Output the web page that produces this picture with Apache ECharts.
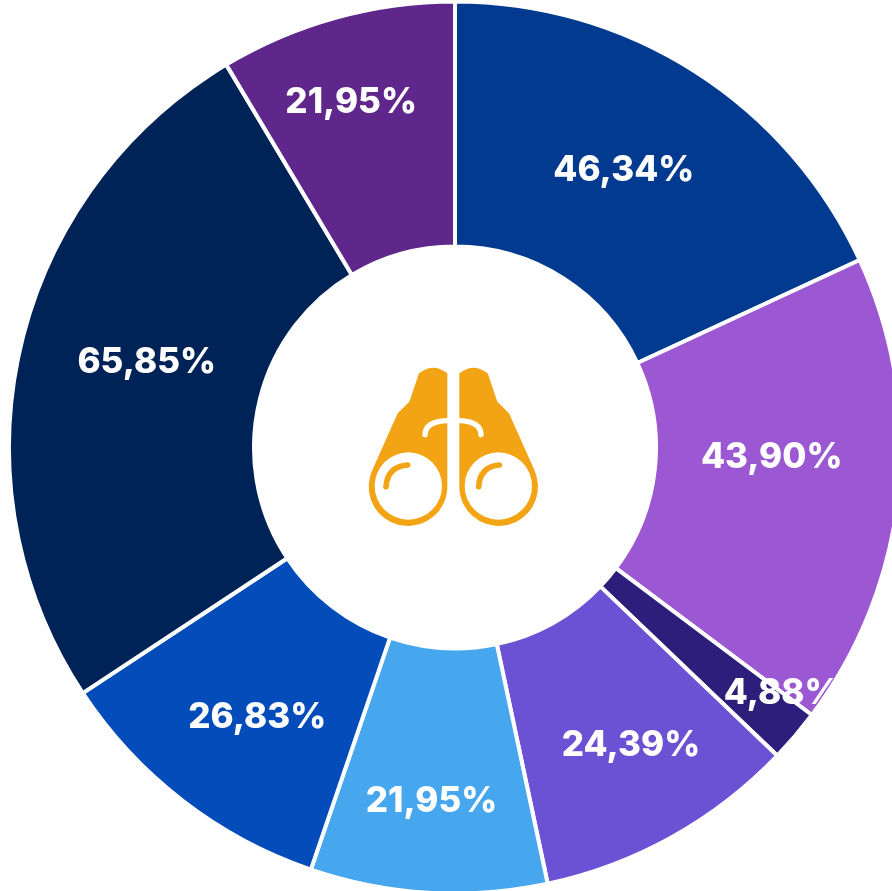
<!DOCTYPE html>
<html><head><meta charset="utf-8">
<style>html,body{margin:0;padding:0;background:#fff}#c{width:892px;height:891px}</style>
<script src="https://cdn.jsdelivr.net/npm/echarts@6/dist/echarts.min.js"></script>
</head><body><div id="c"></div>
<script>
const values = [46.34, 43.90, 4.88, 24.39, 21.95, 26.83, 65.85, 21.95];
const colors = ['#023a90', '#9b58d2', '#2e1e7b', '#6b52d4', '#46a6ee', '#034cba', '#002357', '#5f278c'];
const fmt = v => v.toFixed(2).replace('.', ',') + '%';
const bodyL = 'M292 70Q250 36 207 70L178 155L143 190L68 358A118 118 0 1 0 292 408Z';
const bodyR = 'M328 70Q370 36 413 70L442 155L477 190L552 358A118 118 0 1 1 328 408Z';
const ICON = '#f3a414';
const labelShift = [[-7,-2],[-8,-24],[78,35],[17,13],[-4,28],[2,12],[10,-12],[-17,-30]];
const chart = echarts.init(document.getElementById('c'));
chart.setOption({
  animation: false,
  series: [{
    type: 'pie', center: [455, 447.5], radius: [201, 446], startAngle: 90, clockwise: true,
    avoidLabelOverlap: false, silent: true,
    itemStyle: {borderColor: '#fff', borderWidth: 4},
    label: {position: 'inside', color: '#fff', fontFamily: 'Inter', fontWeight: 800, fontSize: 35},
    labelLine: {show: false},
    data: values.map((v, i) => ({
      value: v, itemStyle: {color: colors[i]},
      label: {formatter: fmt(v), offset: labelShift[i]}
    }))
  }, {
    type: 'custom', coordinateSystem: 'none', silent: true, data: [0], z: 5, clip: false,
    renderItem: () => ({
      type: 'group', x: 350, y: 350, scaleX: 1 / 3, scaleY: 1 / 3,
      children: [
        {type: 'path', shape: {pathData: bodyL}, style: {fill: ICON}},
        {type: 'path', shape: {pathData: bodyR}, style: {fill: ICON}},
        {type: 'circle', shape: {cx: 175, cy: 408, r: 101}, style: {fill: '#fff'}},
        {type: 'circle', shape: {cx: 445, cy: 408, r: 101}, style: {fill: '#fff'}},
        {type: 'path', shape: {pathData: 'M108 410Q112 350 173 345'}, style: {fill: 'none', stroke: ICON, lineWidth: 17, lineCap: 'round'}},
        {type: 'path', shape: {pathData: 'M386 410Q390 350 448 345'}, style: {fill: 'none', stroke: ICON, lineWidth: 17, lineCap: 'round'}},
        {type: 'path', shape: {pathData: 'M225 254Q226 214 292 212'}, style: {fill: 'none', stroke: '#fff', lineWidth: 16, lineCap: 'round'}},
        {type: 'path', shape: {pathData: 'M393 254Q392 214 328 212'}, style: {fill: 'none', stroke: '#fff', lineWidth: 16, lineCap: 'round'}}
      ]
    })
  }]
});
</script></body></html>
